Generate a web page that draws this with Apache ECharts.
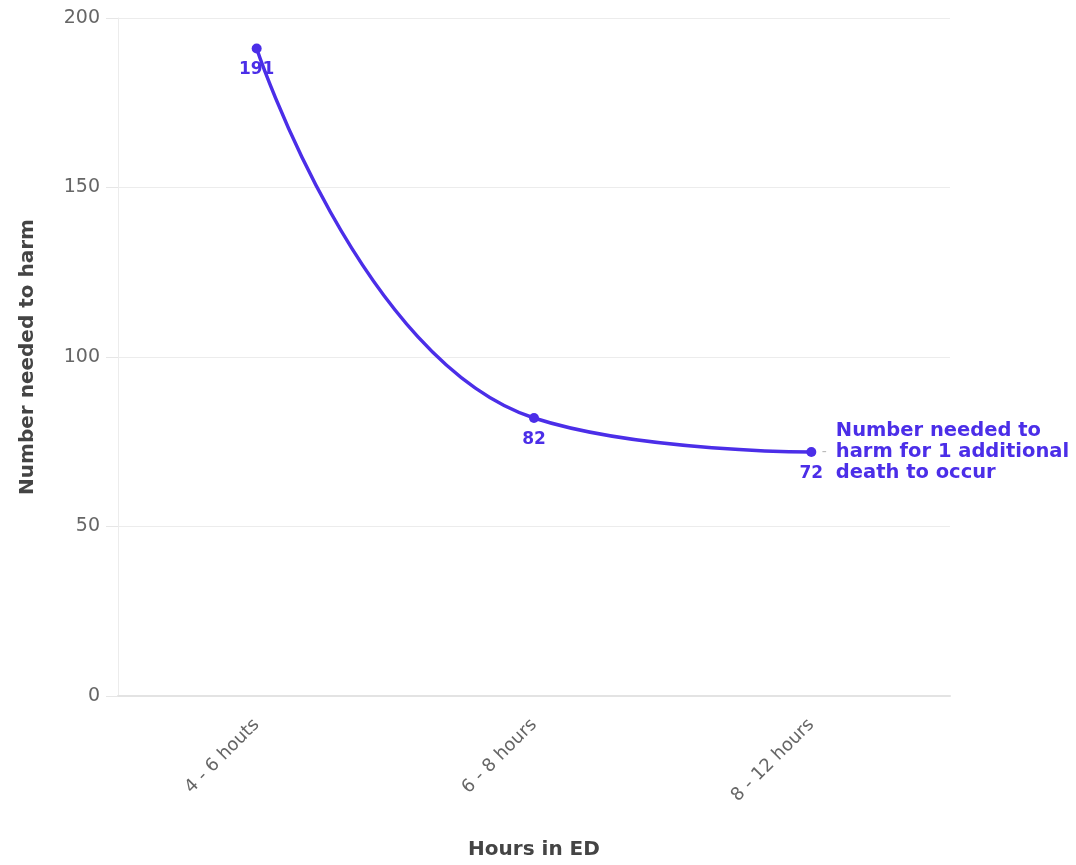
<!DOCTYPE html>
<html>
<head>
<meta charset="utf-8">
<script src="https://cdn.jsdelivr.net/npm/echarts@6/dist/echarts.min.js"></script>
<style>
  html, body { margin: 0; padding: 0; background: #fff; }
  #chart { width: 1076px; height: 865px; }
</style>
</head>
<body>
<div id="chart"></div>
<script>
// Time spent in the emergency department and the number needed to harm
const categories = ['4 - 6 houts', '6 - 8 hours', '8 - 12 hours'];
const nnhValues = [191, 82, 72];
const yTicks = { min: 0, max: 200, interval: 50 };
const annotationLines = ['Number needed to', 'harm for 1 additional', 'death to occur'];

const accent = '#4b2ee8';
const font = '"DejaVu Sans", "Open Sans", sans-serif';

const chart = echarts.init(document.getElementById('chart'));

const lastIdx = nnhValues.length - 1;
const annotationData = nnhValues.map((v, i) => (i === lastIdx ? v : '-'));

chart.setOption({
  animation: false,
  grid: { left: 118, right: 126, top: 18, bottom: 167, containLabel: false },
  xAxis: {
    type: 'category',
    data: categories,
    boundaryGap: true,
    name: 'Hours in ED',
    nameLocation: 'middle',
    nameGap: 144,
    nameTextStyle: { fontFamily: font, fontWeight: 'bold', fontSize: 20, color: '#444' },
    axisLine: { lineStyle: { color: '#e3e3e3', width: 2 } },
    axisTick: { alignWithLabel: true, length: 10, lineStyle: { color: '#dcdcdc' } },
    axisLabel: { rotate: 45, fontFamily: font, fontSize: 18, color: '#666', margin: 26 }
  },
  yAxis: {
    type: 'value',
    min: yTicks.min,
    max: yTicks.max,
    interval: yTicks.interval,
    name: 'Number needed to harm',
    nameLocation: 'middle',
    nameGap: 80,
    nameRotate: 90,
    nameTextStyle: { fontFamily: font, fontWeight: 'bold', fontSize: 20, color: '#444' },
    axisLine: { show: true, lineStyle: { color: '#ececec' } },
    axisTick: { show: true, length: 12, lineStyle: { color: '#e6e6e6' } },
    axisLabel: { fontFamily: font, fontSize: 19, color: '#666', margin: 18 },
    splitLine: { lineStyle: { color: '#ececec' } }
  },
  series: [
    {
      type: 'line',
      data: nnhValues,
      smooth: 0.5,
      symbol: 'circle',
      symbolSize: 10,
      lineStyle: { color: accent, width: 3.5 },
      itemStyle: { color: accent },
      label: {
        show: true,
        position: 'bottom',
        distance: 8,
        fontFamily: font,
        fontWeight: 'bold',
        fontSize: 17,
        color: accent
      },
      z: 3
    },
    {
      // callout text beside the last point
      type: 'scatter',
      data: annotationData,
      symbol: 'circle',
      symbolSize: 1,
      itemStyle: { color: 'rgba(0,0,0,0)', opacity: 1 },
      silent: true,
      label: {
        show: true,
        position: 'right',
        distance: 10,
        formatter: () =>
          annotationLines
            .map((t, i) => (i === 1 ? '{d|-}' : '{p|}') + '{t|' + t + '}')
            .join('\n'),
        rich: {
          d: { color: '#bbb', fontSize: 14, width: 14, fontFamily: font, lineHeight: 21 },
          p: { width: 14, lineHeight: 21 },
          t: {
            color: accent,
            fontFamily: font,
            fontWeight: 'bold',
            fontSize: 19.5,
            lineHeight: 21
          }
        }
      },
      z: 4
    }
  ]
});
</script>
</body>
</html>
